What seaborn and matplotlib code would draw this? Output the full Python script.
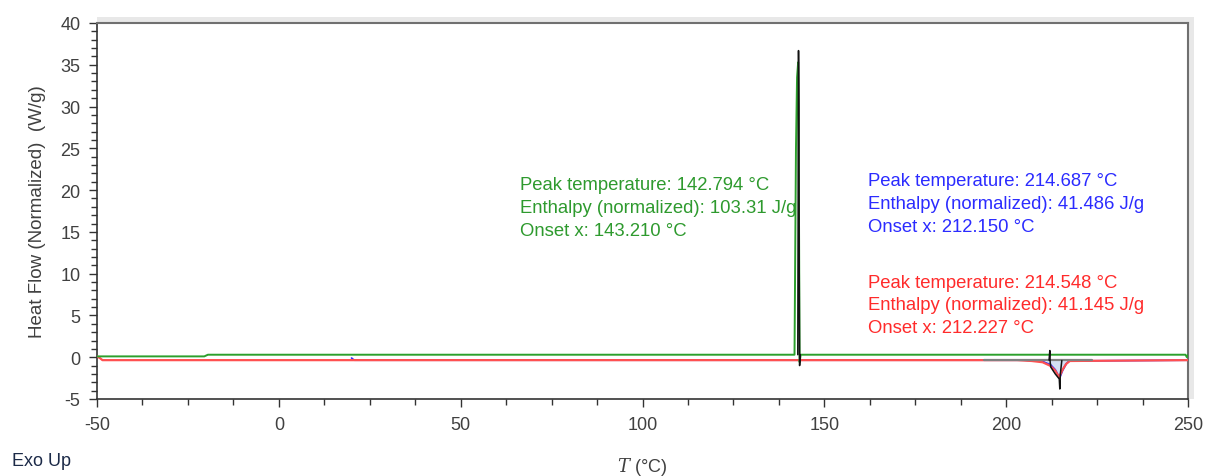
import numpy as np
import pandas as pd
import matplotlib
matplotlib.use("Agg")
import matplotlib.pyplot as plt
from matplotlib.patches import Rectangle
from matplotlib.ticker import MultipleLocator
import seaborn as sns

# ---------------- data ----------------
green_T = [-50, -20.5, -19.5, 141.8, 142.2, 142.5, 142.8, 143.0, 143.2, 143.5, 249.3, 249.7, 250]
green_hf = [0.1, 0.1, 0.3, 0.3, 25.0, 33.5, 35.3, 20.0, -0.6, 0.3, 0.3, 0.0, 0.3]

red_T = [-50, -49.2, -48.5, 203.0, 207.0, 210.0, 212.0, 213.5, 214.55, 215.5, 216.5, 217.5, 250]
red_hf = [0.1, -0.1, -0.35, -0.35, -0.45, -0.6, -1.0, -1.6, -2.4, -1.5, -0.8, -0.45, -0.35]

blue_T = [20.0, 20.4, 20.8, 205.0, 210.0, 212.2, 213.5, 214.69, 215.5, 216.5, 217.3, 250]
blue_hf = [-0.1, -0.25, -0.35, -0.35, -0.5, -0.9, -1.5, -2.5, -1.6, -0.8, -0.45, -0.35]

black_T = [142.7, 142.9, 143.0, 143.1, 143.2, 143.35, 211.8, 212.0, 212.1, 212.3, 213.5, 214.6, 214.75, 214.9, 215.3]
black_hf = [0.3, 36.7, 30.0, 10.0, -1.0, 0.3, -0.35, 0.8, -0.6, -1.2, -2.0, -2.6, -3.8, -2.0, -0.4]

base_T = [194.0, 223.6]
base_hf = [-0.35, -0.35]

fill_T = [211.0, 212.2, 213.5, 214.69, 215.5, 216.5, 217.3]
fill_hf = [-0.45, -0.9, -1.5, -2.5, -1.6, -0.8, -0.45]

annotations = [
    (66.3, [
        "Peak temperature: 142.794 °C",
        "Enthalpy (normalized): 103.31 J/g",
        "Onset x: 143.210 °C"], 20.7, "#2e9a2e"),
    (162.0, [
        "Peak temperature: 214.687 °C",
        "Enthalpy (normalized): 41.486 J/g",
        "Onset x: 212.150 °C"], 21.2, "#2b2bff"),
    (162.0, [
        "Peak temperature: 214.548 °C",
        "Enthalpy (normalized): 41.145 J/g",
        "Onset x: 212.227 °C"], 9.0, "#ff2b2b"),
]

x_ticks = [-50, 0, 50, 100, 150, 200, 250]
y_ticks = [-5, 0, 5, 10, 15, 20, 25, 30, 35, 40]

# ---------------- plot ----------------
sns.set_style("white")
plt.rcParams["font.family"] = ["Liberation Sans", "DejaVu Sans"]
plt.rcParams["mathtext.fontset"] = "dejavuserif"
plt.rcParams["axes.unicode_minus"] = False

fig = plt.figure(figsize=(12.08, 4.77), dpi=100)
ax = fig.add_axes([97 / 1208, 1 - 400 / 477, (1188 - 97) / 1208, (400 - 24) / 477])

# light shadow frame behind the axes (top/right)
fig.patches.append(Rectangle((97 / 1208, 1 - 400 / 477), (1194 - 97) / 1208, (400 - 18) / 477,
                             transform=fig.transFigure, facecolor="#e8e8e8", edgecolor="none", zorder=-5))
ax.set_facecolor("white")

df_blue = pd.DataFrame({"T": blue_T, "HF": blue_hf})
df_red = pd.DataFrame({"T": red_T, "HF": red_hf})
df_green = pd.DataFrame({"T": green_T, "HF": green_hf})
df_black = pd.DataFrame({"T": black_T, "HF": black_hf})
df_base = pd.DataFrame({"T": base_T, "HF": base_hf})

ax.fill_between(fill_T, fill_hf, [-0.4] * len(fill_T), color="#c8d8f0", alpha=0.8, lw=0, zorder=1)
sns.lineplot(data=df_blue, x="T", y="HF", ax=ax, color="#3030ff", lw=1.3, sort=False, estimator=None, zorder=2)
sns.lineplot(data=df_red, x="T", y="HF", ax=ax, color="#ff5050", lw=1.6, sort=False, estimator=None, zorder=3)
sns.lineplot(data=df_base, x="T", y="HF", ax=ax, color="#808080", lw=1.6, sort=False, estimator=None, zorder=4)
sns.lineplot(data=df_green, x="T", y="HF", ax=ax, color="#2ca02c", lw=1.4, sort=False, estimator=None, zorder=5)
# black segments drawn as two pieces so they do not connect
sns.lineplot(data=df_black.iloc[:6], x="T", y="HF", ax=ax, color="#111111", lw=1.1, sort=False, estimator=None, zorder=6)
sns.lineplot(data=df_black.iloc[6:], x="T", y="HF", ax=ax, color="#111111", lw=1.1, sort=False, estimator=None, zorder=6)

for x0, lines, y0, col in annotations:
    for i, s in enumerate(lines):
        ax.text(x0, y0 - i * 2.75, s, color=col, fontsize=13.3, ha="left", va="center", zorder=7)

ax.set_xlim(-50, 250)
ax.set_ylim(-5, 40)
ax.set_xticks(x_ticks)
ax.set_yticks(y_ticks)
ax.xaxis.set_minor_locator(MultipleLocator(12.5))
ax.yaxis.set_minor_locator(MultipleLocator(1))
ax.tick_params(axis="both", which="major", direction="out", length=6, width=1, color="#333333",
               labelsize=13, labelcolor="#404040", bottom=True, left=True)
ax.tick_params(axis="x", which="major", pad=6)
ax.tick_params(axis="y", which="major", pad=6)
ax.tick_params(axis="both", which="minor", direction="out", length=4, width=1, color="#333333",
               bottom=True, left=True)

for side in ["left", "bottom"]:
    ax.spines[side].set_color("#333333")
    ax.spines[side].set_linewidth(1.2)
for side in ["top", "right"]:
    ax.spines[side].set_color("#707070")
    ax.spines[side].set_linewidth(1.5)

ax.set_xlabel(r"$T$ (°C)", fontsize=13, color="#404040", labelpad=16)
ax.set_ylabel("Heat Flow (Normalized)  (W/g)", fontsize=13.5, color="#404040", labelpad=10)
ax.legend_ = None

fig.text(12 / 1208, 1 - 462 / 477, "Exo Up", fontsize=13, color="#1c2a48", ha="left", va="center")

fig.savefig("out.png", dpi=100)
